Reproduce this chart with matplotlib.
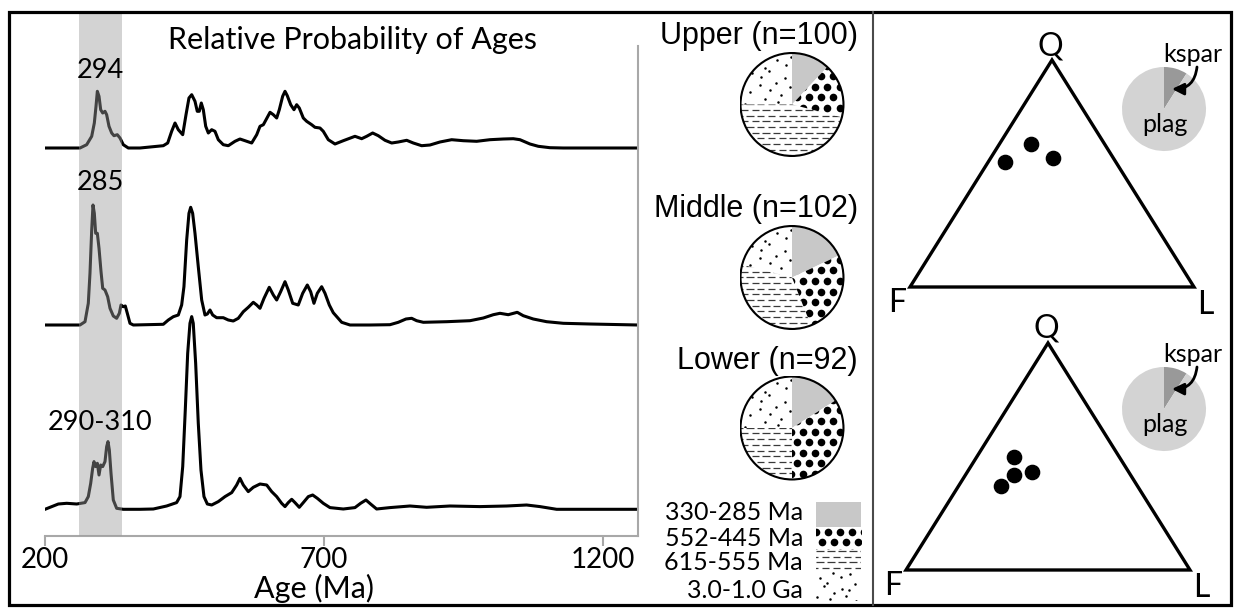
import numpy as np
import matplotlib
matplotlib.use("Agg")
import matplotlib.pyplot as plt
from matplotlib.patches import Rectangle, Circle, Polygon
from matplotlib.collections import LineCollection

# ---------------- data ----------------
upper_age = [200, 262.7, 274.7, 283.7, 288.4, 291.4, 293.8, 296.8, 299.8, 303.4, 307.5, 310.5, 314.7, 319.5,
             323.6, 329.6, 334.4, 340.3, 349.3, 370.2, 412, 419.9, 427, 433, 438.9, 446.8, 452.7, 458, 462.9,
             468.8, 472.9, 476.5, 480.1, 483.7, 488, 492.7, 498.7, 504.6, 510.6, 519.5, 528.5, 540.5, 549.4,
             558.4, 570.4, 579.4, 585.3, 591.3, 603.3, 609.2, 615.2, 619.9, 625.9, 630.1, 634.2, 640.3, 646.2,
             651, 655.7, 662.9, 668.9, 677.9, 683.8, 692.8, 698.7, 707.7, 719.7, 734.6, 755.5, 767.5, 776.5,
             787.2, 797.3, 809.3, 821.3, 833.1, 848.2, 860, 875, 889.9, 907.8, 928.8, 949.6, 973.6, 997.4,
             1021.3, 1039.2, 1051.2, 1069.1, 1084, 1105, 1128.8, 1263]
upper_prob = [0, 0, 3.3, 11.7, 25, 41.7, 56.7, 51.7, 38.3, 35, 36.7, 33.3, 21.7, 15, 12.3, 13.3, 10, 3.3, 0, 0,
              2.3, 5, 16.7, 25, 18.3, 13.3, 33.3, 50, 53.3, 46.7, 36.7, 36.7, 45, 38.3, 21.7, 15, 18.3, 16.7,
              8.3, 3.3, 2.3, 6.7, 9, 7.3, 5, 13.3, 21.7, 23.3, 35.7, 33.3, 30, 38.3, 51.7, 56.7, 52.3, 43.3,
              38.3, 43.3, 40, 30, 26.7, 23.3, 20.7, 20, 16.7, 8.3, 4, 7.3, 11.7, 9.3, 11.7, 15, 12.3, 7.7, 5,
              6, 7.7, 5, 2.3, 3, 6, 8.3, 7.3, 6.7, 8.3, 9, 9.3, 8.3, 4, 1.7, 0.3, 0, 0]

middle_age = [200, 262.7, 271.7, 277.6, 280.6, 283.7, 286, 288.4, 290.8, 293.8, 296.8, 300.4, 303.4, 307.5,
              312.3, 316.5, 322.4, 328.4, 333.2, 336.2, 340.3, 343.9, 347.5, 352.3, 358.3, 412, 421, 429.9,
              438.9, 444.9, 449, 453.9, 458, 461.1, 464.6, 468.8, 474.7, 480.8, 486.7, 490.9, 495.7, 500.5,
              507.6, 519.5, 528.5, 537.4, 546.4, 555.4, 564.3, 573.3, 579.4, 585.3, 592.5, 601.9, 609.2, 615.2,
              622.3, 630.1, 636, 643.9, 653.9, 661.8, 670.1, 676.1, 682, 688, 695.8, 701.8, 709.5, 716.6,
              731.7, 746.6, 782.4, 818.2, 833.1, 846.9, 857.1, 866, 878, 919.9, 961.6, 985.5, 1003.4, 1015.4,
              1030.2, 1046.3, 1057.1, 1075, 1099, 1128.8, 1176.6, 1263]
middle_prob = [0, 0, 3.3, 21.7, 51.7, 95, 120, 111.7, 91.7, 91.7, 76.7, 53.3, 36.7, 35, 28.3, 16.7, 9, 6.7,
               11.7, 20, 18.3, 19, 11.7, 1.7, 0, 0.7, 5, 8.3, 10, 20, 38.3, 85, 111.7, 117.7, 111.7, 91.7,
               58.3, 25, 10, 11, 15, 10, 7.3, 7.3, 5, 4, 6.7, 13.3, 17.7, 22.7, 20, 16.7, 26.7, 37.7, 30, 25,
               33.3, 43.3, 35, 21.7, 20, 31.7, 40, 33.3, 21.7, 31.7, 38.3, 31.7, 20, 12.3, 2.7, 0, 0, 0.3,
               2.7, 6, 6.7, 4.3, 2.7, 3.3, 4.3, 7, 10.3, 11.7, 10.3, 12.7, 9.3, 6, 3.3, 1.7, 1, 0]

lower_age = [200, 209, 223.9, 238.9, 256.8, 271.7, 277.6, 281.9, 285.4, 287.8, 290.8, 293.8, 296.8, 299.8,
             303.4, 307.5, 310.5, 312.9, 315.3, 318.3, 322.4, 328.4, 340.3, 370.2, 394.1, 418, 435.9, 441.9,
             446.8, 451.4, 455.7, 459.8, 462.9, 465.7, 470, 474.7, 479.5, 484.9, 490.9, 498.7, 510.6, 522.6,
             534.6, 543.5, 549.4, 555.4, 564.3, 573.3, 585.3, 597.3, 606.2, 615.2, 624.1, 630.1, 636, 642.1,
             648, 655.7, 662.9, 671.9, 679.7, 688, 698.7, 710.7, 734.6, 755.5, 765.6, 775.2, 783.5, 794.3,
             818.2, 854, 883.9, 925.7, 979.5, 1027.3, 1063.1, 1087, 1116.9, 1263]
lower_prob = [0, 2, 5.3, 6, 5.3, 6.7, 12.7, 26, 41, 47.7, 42.7, 46, 34.3, 44.3, 42.7, 47.7, 62.7, 67.7, 59.3,
              36, 9.3, 1, 0, 0, 0.3, 3.3, 6.7, 12.7, 42.7, 99.3, 156, 186, 192.7, 186, 146, 86, 39.3, 12.7,
              5.3, 4.3, 7.7, 12.7, 16.7, 24.3, 31, 24.3, 17.7, 22, 25.3, 24.3, 17.7, 12.7, 6, 2.7, 6.7, 10,
              6.7, 2, 6.7, 12.7, 14.3, 11, 6, 1.7, 0.3, 1.7, 6, 9.3, 5.3, 0.3, 1.7, 3.3, 2, 3.3, 2.7, 3.3,
              4.3, 2.7, 0, 0]

age_ticks = [200, 700, 1200]
band_ages = (261, 338)
peak_labels = ["294", "285", "290-310"]

pie_titles = ["Upper (n=100)", "Middle (n=102)", "Lower (n=92)"]
# order: 330-285 Ma, 552-445 Ma, 615-555 Ma, 3.0-1.0 Ga
pie_upper = [12, 17, 46, 25]
pie_middle = [18, 26, 35, 21]
pie_lower = [16, 34, 25, 25]
legend_labels = ["330-285 Ma", "552-445 Ma", "615-555 Ma", "3.0-1.0 Ga"]

upper_Q = [55, 63, 57]
upper_F = [39, 26, 21]
upper_L = [6, 11, 22]
lower_Q = [50, 42, 43, 37]
lower_F = [37, 41, 34, 48]
lower_L = [13, 17, 23, 15]
kspar_pct = 9
plag_pct = 91

# ---------------- layout ----------------
W, H = 1235, 608
fig = plt.figure(figsize=(W / 100, H / 100), dpi=100)
fig.patch.set_facecolor("white")
plt.rcParams["font.family"] = ["Lato", "DejaVu Sans"]
MYR = ["Lato", "DejaVu Sans"]
HELV = ["Liberation Sans", "DejaVu Sans"]


def fbox(x0, y0, x1, y1):
    return [x0 / W, 1 - y1 / H, (x1 - x0) / W, (y1 - y0) / H]


GRAY_SPINE = "#a8a8a8"

# ---- relative probability curves ----
AX_L, AX_R, AX_T, AX_B = 45, 638, 12, 536
ax = fig.add_axes(fbox(AX_L, AX_T, AX_R, AX_B))
ax.set_xlim(200, 200 + (AX_R - AX_L) * 500 / 279)
ax.set_ylim(0, AX_B - AX_T)
offsets = [AX_B - 148, AX_B - 325, AX_B - 509.3]
for ages, prob, off in zip([upper_age, middle_age, lower_age],
                           [upper_prob, middle_prob, lower_prob], offsets):
    ax.plot(ages, np.array(prob) + off, color="k", lw=2.2, solid_joinstyle="round", zorder=2)
ax.axvspan(*band_ages, color="#9c9c9c", alpha=0.435, lw=0, zorder=3)
for s in ["left", "top"]:
    ax.spines[s].set_visible(False)
for s in ["bottom", "right"]:
    ax.spines[s].set_color(GRAY_SPINE)
    ax.spines[s].set_linewidth(1.5)
ax.spines["right"].set_bounds(0, AX_B - 46)
ax.set_yticks([])
ax.set_xticks(age_ticks)
ax.tick_params(axis="x", direction="out", length=7.2, width=1.5, color=GRAY_SPINE,
               labelsize=20, pad=1)
for lab in ax.get_xticklabels():
    lab.set_family(MYR)
ax.patch.set_visible(False)

# ---- overlay (pixel coordinates) ----
ov = fig.add_axes([0, 0, 1, 1], zorder=5)
ov.set_xlim(0, W)
ov.set_ylim(H, 0)
ov.axis("off")
ov.patch.set_visible(False)

ov.text(352, 40, "Relative Probability of Ages", ha="center", va="center", fontsize=22, family=MYR)
ov.text(100, 70, peak_labels[0], ha="center", va="center", fontsize=19.5, family=MYR)
ov.text(100, 182, peak_labels[1], ha="center", va="center", fontsize=19.5, family=MYR)
ov.text(100, 423, peak_labels[2], ha="center", va="center", fontsize=19.5, family=MYR)
ov.text(314, 588, "Age (Ma)", ha="center", va="center", fontsize=22, family=MYR)

# borders
ov.add_patch(Rectangle((9, 12), 1222, 593, fill=False, lw=2.3, ec="k"))
ov.plot([872.5, 872.5], [12, 605], color="#4a4a4a", lw=1.5)


# ---- textures ----
def dots_texture(a, clip, x0, x1, y0, y1, sp, ms):
    xs, ys = [], []
    j = 0
    y = y0
    while y <= y1 + sp:
        x = x0 - sp + (j % 2) * sp / 2
        while x <= x1 + sp:
            xs.append(x)
            ys.append(y)
            x += sp
        y += sp * 0.866
        j += 1
    ln, = a.plot(xs, ys, "o", ms=ms, color="k", mec="none", zorder=3)
    ln.set_clip_path(clip)


def dash_texture(a, clip, x0, x1, y0, y1, row, dlen, period):
    segs = []
    j = 0
    y = y0
    while y <= y1 + row:
        x = x0 - period + (j % 2) * period / 2
        while x <= x1 + period:
            segs.append([(x, y), (x + dlen, y)])
            x += period
        y += row
        j += 1
    lc = LineCollection(segs, colors="#3a3a3a", linewidths=0.9, zorder=3)
    a.add_collection(lc)
    lc.set_clip_path(clip)


JX = [0.0, 0.35, -0.25, 0.15, -0.4, 0.3, -0.1]
JY = [0.2, -0.3, 0.1, -0.15, 0.35, -0.05]


def speck_texture(a, clip, x0, x1, y0, y1, sp, ms):
    xs, ys = [], []
    i = 0
    x = x0
    while x <= x1 + sp:
        j = 0
        y = y0
        while y <= y1 + sp:
            xs.append(x + JX[(i * 3 + j) % 7] * sp)
            ys.append(y + JY[(i + 2 * j) % 6] * sp)
            y += sp * 0.8
            j += 1
        x += sp
        i += 1
    ln, = a.plot(xs, ys, "o", ms=ms, color="k", mec="none", zorder=3)
    ln.set_clip_path(clip)


# ---- sample pies ----
R = 52.5
pie_centers = [(792, 104.5), (792, 277.5), (792, 428)]
title_y = [36, 209, 361]
for vals, (cx, cy), ttl, ty in zip([pie_upper, pie_middle, pie_lower], pie_centers, pie_titles, title_y):
    pa = fig.add_axes(fbox(cx - R, cy - R, cx + R, cy + R))
    wedges, _ = pa.pie(vals, colors=["#c8c8c8", "white", "white", "white"], startangle=90,
                       counterclock=False, radius=1, wedgeprops=dict(linewidth=0))
    pa.set_xlim(-1.02, 1.02)
    pa.set_ylim(-1.02, 1.02)
    pa.set_aspect("equal")
    pa.axis("off")
    u = 1 / R
    dots_texture(pa, wedges[1], -1.1, 1.1, -1.1, 1.1, 12.5 * u, 5.5)
    dash_texture(pa, wedges[2], -1.1, 1.1, -1.1, 1.1, 5.8 * u, 7.5 * u, 11 * u)
    speck_texture(pa, wedges[3], -1.1, 1.1, -1.1, 1.1, 13 * u, 1.8)
    pa.add_patch(Circle((0, 0), 1, fill=False, lw=1.5, ec="k", zorder=4))
    ov.text(858, ty, ttl, ha="right", va="center", fontsize=22, family=HELV)

# ---- legend ----
leg_y = [512, 538, 563, 590]
for lab, ly in zip(legend_labels, leg_y):
    ov.text(803, ly, lab, ha="right", va="center", fontsize=18, family=MYR)
ov.add_patch(Rectangle((816, 502), 45, 25, color="#c8c8c8", lw=0))
r1 = Rectangle((816, 527), 45, 22, fill=False, lw=0)
ov.add_patch(r1)
dots_texture(ov, r1, 816, 861, 532, 549, 12, 5.5)
r2 = Rectangle((816, 549), 45, 22, fill=False, lw=0)
ov.add_patch(r2)
dash_texture(ov, r2, 816, 861, 551, 571, 5.5, 7.5, 11)
r3 = Rectangle((816, 572), 45, 28, fill=False, lw=0)
ov.add_patch(r3)
speck_texture(ov, r3, 820, 861, 576, 600, 11, 1.8)

# ---- ternary diagrams ----
terns = [((910, 60, 1194, 287), upper_Q, upper_F, upper_L, (1164, 109)),
         ((906, 343, 1190, 570), lower_Q, lower_F, lower_L, (1164, 409))]
for (x0, y0, x1, y1), Q, F, L, (pcx, pcy) in terns:
    ta = fig.add_axes(fbox(x0, y0, x1, y1))
    ta.set_xlim(0, 1)
    ta.set_ylim(0, 1)
    ta.axis("off")
    ta.add_patch(Polygon([(0, 0), (1, 0), (0.5, 1)], closed=True, fill=False, lw=2.4,
                         ec="k", joinstyle="miter", clip_on=False))
    q = np.array(Q) / 100.0
    l = np.array(L) / 100.0
    ta.scatter(l + q / 2, q, s=105, color="k", clip_on=False, zorder=3)
    ov.text(x0 + 140, y0 - 14, "Q", ha="center", va="center", fontsize=23, family=MYR)
    ov.text(x0 - 13, y1 + 16, "F", ha="center", va="center", fontsize=23, family=MYR)
    ov.text(x1 + 11, y1 + 18, "L", ha="center", va="center", fontsize=23, family=MYR)

    RI = 42
    ia = fig.add_axes(fbox(pcx - RI, pcy - RI, pcx + RI, pcy + RI))
    ia.pie([kspar_pct, plag_pct], colors=["#999999", "#d3d3d3"], startangle=90,
           counterclock=False, radius=1, wedgeprops=dict(linewidth=0))
    ia.set_xlim(-1, 1)
    ia.set_ylim(-1, 1)
    ia.axis("off")
    ov.text(pcx + 29, pcy - 54, "kspar", ha="center", va="center", fontsize=18, family=MYR)
    ov.text(pcx + 1, pcy + 15, "plag", ha="center", va="center", fontsize=18, family=MYR)
    ov.annotate("", xy=(pcx + 8, pcy - 20), xytext=(pcx + 33, pcy - 42),
                arrowprops=dict(arrowstyle="-|>,head_length=0.7,head_width=0.35", color="k", lw=2.0,
                                connectionstyle="arc3,rad=-0.45", shrinkA=0, shrinkB=0))

fig.savefig("out.png", dpi=100, facecolor="white")
